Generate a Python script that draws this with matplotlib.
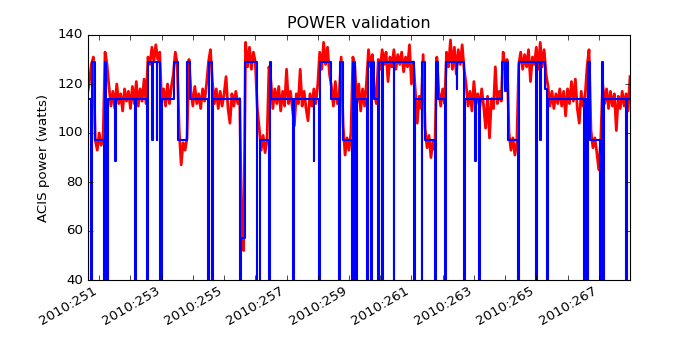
import numpy as np
import matplotlib
matplotlib.use('Agg')
import matplotlib.pyplot as plt

# Telemetry (red): one sample every 1/16 day starting at 2010:250.625
TLM_START = 250.625
TLM_STEP = 1.0 / 16
tlm_watts = [
    116, 121, 128, 131, 97, 93, 100, 95, 98, 133, 128,
    119, 111, 117, 110, 120, 112, 116, 109, 118, 113, 117, 110, 119, 112, 121, 111, 118, 113, 122, 112,
    131, 128, 135, 129, 136, 130, 133,
    113, 118, 111, 120, 112, 119, 124,
    133, 128,
    101, 87, 96, 93, 98,
    130,
    117, 111, 119, 112, 116, 110, 118, 113, 120,
    129, 134,
    121, 112, 118, 110, 117, 111, 116, 123, 110, 104, 116, 111, 117, 112, 114,
    62, 52,
    137, 127, 135, 126, 133, 129,
    110,
    102, 93, 99, 92, 97,
    127,
    121, 110, 118, 112, 119, 109, 117, 111, 126, 112, 117, 110, 103, 116, 112, 126, 111, 117, 110, 105, 116, 111, 118, 112, 120,
    133, 126, 137, 128, 135, 124,
    119, 111, 121, 112, 116,
    131,
    103, 91, 98, 93, 100,
    131, 127,
    112, 120, 109, 118, 111, 121,
    134, 127, 132,
    117, 112,
    130, 126, 134, 128, 133, 121, 131, 127, 134, 126, 132, 128, 133, 125, 131, 127, 136, 120, 129,
    117, 104, 115, 110,
    132,
    102, 94, 99, 90, 97, 93,
    131,
    117, 111, 118, 112,
    133, 127, 138, 126, 135, 124, 134, 128, 136, 126,
    120, 111, 117, 109, 121, 112, 116, 110, 118, 111, 102, 115, 98, 114, 110, 127, 112, 117, 113,
    133, 126, 130,
    100, 93, 98, 91, 96,
    128, 133, 126, 132, 127, 134, 121, 131, 128, 135, 126, 137, 127, 134, 124,
    119, 111, 117, 110, 116, 112, 118, 111, 117, 107, 118, 112, 121, 113, 122, 110, 104, 117, 111, 115, 127,
    134,
    101, 94, 98, 92, 85,
    97, 120,
    112, 118, 110, 117, 111, 116, 101, 115, 110, 117, 111, 116, 109, 123,
]

# Model (blue): step changes (day of 2010, watts)
model_days = [
    250.625, 250.750, 250.769, 250.856, 251.154, 251.176, 251.231, 251.282,
    251.513, 251.535, 252.138, 252.170, 252.538, 252.551, 252.699, 252.715,
    252.843, 252.859, 252.962, 252.997, 253.381, 253.526, 253.827, 253.910,
    254.487, 254.519, 254.628, 254.647, 255.513, 255.529, 255.663, 256.048,
    256.144, 256.426, 256.465, 256.513, 257.212, 257.244, 257.869, 257.891,
    258.045, 258.077, 258.426, 258.686, 258.724, 258.795, 259.093, 259.131,
    259.199, 259.244, 259.571, 259.596, 259.712, 259.740, 259.808, 259.917,
    259.949, 260.054, 260.077, 260.429, 260.449, 261.071, 261.103, 261.327,
    261.346, 261.433, 261.763, 261.785, 261.859, 262.083, 262.115, 262.452,
    262.471, 262.692, 262.724, 263.045, 263.064, 263.170, 263.189, 263.901,
    264.006, 264.022, 264.083, 264.423, 264.446, 264.990, 265.010, 265.119,
    265.138, 265.288, 265.343, 265.365, 266.538, 266.561, 266.609, 266.647,
    266.731, 267.051, 267.090, 267.128, 267.154, 267.875, 267.907, 268.003,
]
model_watts = [
    114, 0, 129, 97, 0, 129, 0, 114,
    88.5, 114, 0, 114, 0, 129, 97, 129,
    97, 129, 0, 114, 129, 97, 129, 114,
    0, 129, 0, 114, 0, 57, 129, 0,
    97, 0, 129, 114, 0, 114, 88.5, 114,
    0, 129, 114, 0, 129, 97, 0, 129,
    0, 114, 0, 129, 0, 129, 114, 0,
    129, 0, 129, 0, 129, 0, 114, 0,
    129, 97, 0, 129, 114, 0, 129, 118,
    129, 0, 114, 88.5, 114, 0, 114, 129,
    117, 129, 97, 0, 129, 0, 129, 97,
    129, 118, 0, 114, 0, 114, 0, 129,
    97, 0, 129, 0, 114, 0, 114, 114,
]

tick_days = list(range(251, 269))
tick_labels = ['2010:%d' % d if d % 2 == 1 else '' for d in tick_days]


def make_plot():
    plt.style.use('classic')
    # original was drawn at a lower dpi, so shrink text and ticks
    plt.rcParams['font.size'] = 9.6
    plt.rcParams['axes.titlesize'] = 9.6 * 1.2
    plt.rcParams['axes.labelsize'] = 9.6
    plt.rcParams['xtick.labelsize'] = 9.6
    plt.rcParams['ytick.labelsize'] = 9.6
    plt.rcParams['xtick.major.size'] = 3.3
    plt.rcParams['ytick.major.size'] = 3.3
    plt.rcParams['xtick.major.pad'] = 3.3
    plt.rcParams['ytick.major.pad'] = 3.3
    plt.rcParams['axes.linewidth'] = 0.8

    tlm_days = TLM_START + TLM_STEP * np.arange(len(tlm_watts))

    fig = plt.figure(figsize=(7, 3.5), dpi=100)
    ax = fig.add_subplot(111)
    ax.plot(tlm_days, tlm_watts, color='r', linewidth=2.0)
    ax.step(model_days, model_watts, where='post', color='b', linewidth=1.5)

    ax.set_xlim(250.625, 268.0)
    ax.set_ylim(40, 140)
    ax.set_yticks([40, 60, 80, 100, 120, 140])
    ax.set_xticks(tick_days)
    ax.set_xticklabels(tick_labels)
    ax.set_title('POWER validation')
    ax.set_ylabel('ACIS power (watts)')

    fig.subplots_adjust(left=0.125, right=0.9, top=0.9, bottom=0.2)
    for lbl in ax.get_xticklabels():
        lbl.set_rotation(30)
        lbl.set_ha('right')

    fig.savefig('out.png', dpi=100)
    plt.close(fig)


if __name__ == "__main__":
    make_plot()
